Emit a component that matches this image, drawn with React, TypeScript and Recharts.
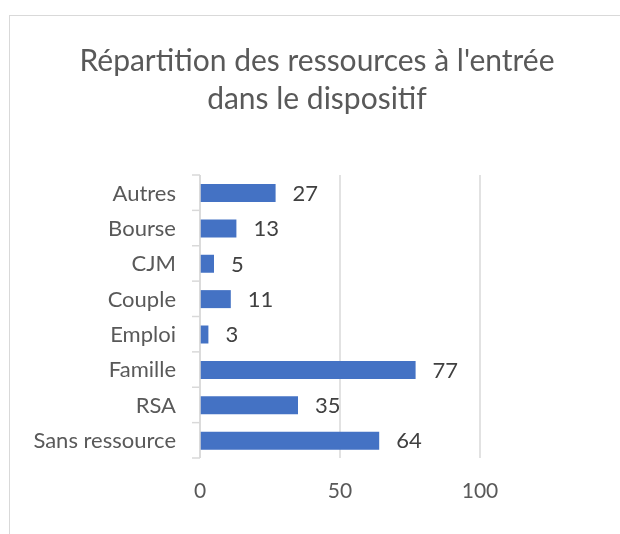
import React from 'react'
import { BarChart, Bar, XAxis, YAxis, CartesianGrid, LabelList } from 'recharts'

// categories, top to bottom as drawn
const categories = ['Autres', 'Bourse', 'CJM', 'Couple', 'Emploi', 'Famille', 'RSA', 'Sans ressource']
const counts = [27, 13, 5, 11, 3, 77, 35, 64]
const xTicks = [0, 50, 100]

const data = categories.map((name, i) => ({ name, value: counts[i] }))

const FONT = 'Lato, "Open Sans", sans-serif'
const PLOT_H = 283
const BAND = PLOT_H / categories.length

// category label plus a short tick mark at each band edge (Excel style)
const CategoryTick = (props: any) => {
  const { x, y, payload, index } = props
  return (
    <g>
      <line x1={x - 8} x2={x} y1={y - BAND / 2} y2={y - BAND / 2} stroke="#d9d9d9" strokeWidth={1.5} />
      {index === categories.length - 1 && (
        <line x1={x - 8} x2={x} y1={y + BAND / 2} y2={y + BAND / 2} stroke="#d9d9d9" strokeWidth={1.5} />
      )}
      <text x={x - 24} y={y} dy="0.36em" textAnchor="end" fill="#595959" fontSize={22} fontFamily={FONT}>
        {payload.value}
      </text>
    </g>
  )
}

export default function App() {
  return (
    <div style={{ position: 'relative', width: 604, height: 518, background: '#fff' }}>
      {/* chart frame, cut off by the window on the right and bottom */}
      <div
        style={{
          position: 'fixed',
          left: 9,
          top: 15,
          width: 700,
          height: 600,
          borderTop: '1.5px solid #d9d9d9',
          borderLeft: '1.5px solid #d9d9d9',
        }}
      />
      <div
        style={{
          position: 'absolute',
          left: 0,
          top: 32,
          width: 618,
          textAlign: 'center',
          fontFamily: FONT,
          fontSize: 30,
          lineHeight: '38px',
          color: '#595959',
        }}
      >
        Répartition des ressources à l'entrée
        <br />
        dans le dispositif
      </div>
      <BarChart
        width={604}
        height={518}
        data={data}
        layout="vertical"
        margin={{ top: 167, right: 132, bottom: 20, left: 0 }}
        style={{ position: 'absolute', left: 0, top: 0 }}
      >
        <CartesianGrid horizontal={false} stroke="#d9d9d9" strokeWidth={1.5} />
        <XAxis
          type="number"
          domain={[0, 100]}
          ticks={xTicks}
          axisLine={false}
          tickLine={false}
          tickSize={0}
          tickMargin={25}
          height={48}
          tick={{ fill: '#595959', fontSize: 21, fontFamily: FONT }}
        />
        <YAxis
          type="category"
          dataKey="name"
          width={192}
          axisLine={{ stroke: '#d9d9d9', strokeWidth: 1.5 }}
          tickLine={false}
          tickSize={0}
          tickMargin={0}
          tick={<CategoryTick />}
        />
        <Bar dataKey="value" fill="#4472C4" barSize={18} isAnimationActive={false}>
          <LabelList dataKey="value" position="right" offset={17} fill="#404040" fontSize={22} fontFamily={FONT} />
        </Bar>
      </BarChart>
    </div>
  )
}
